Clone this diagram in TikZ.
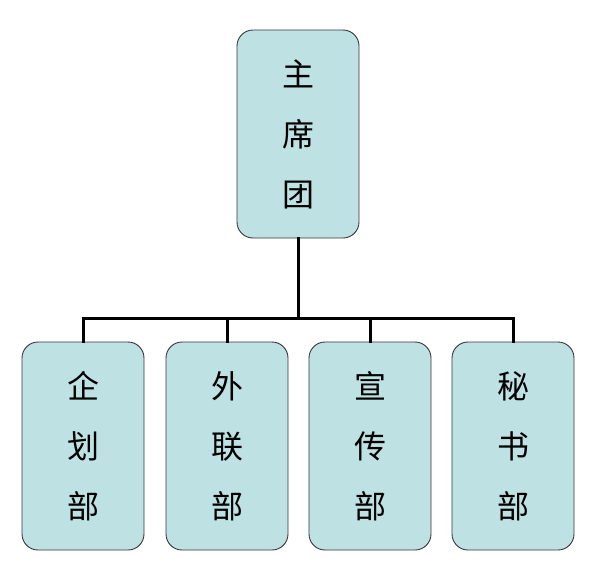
\documentclass[tikz,border=0pt]{standalone}
\usepackage{fontspec}
\newfontfamily\cjk{Noto Sans CJK SC}
\usetikzlibrary{positioning}
\definecolor{boxfill}{RGB}{190,225,228}
\definecolor{boxline}{RGB}{55,55,55}

\begin{document}
\begin{tikzpicture}[
  x=1pt, y=1pt,
  unit/.style={draw=boxline, line width=0.9pt, fill=boxfill,
               rounded corners=16pt, minimum width=122pt, minimum height=208pt,
               align=center, inner sep=0pt,
               font=\cjk\fontsize{32}{60}\selectfont},
  conn/.style={line width=3pt, line cap=rect}
]
\useasboundingbox (0,0) rectangle (597,-576);

%% ── nodes ───────────────────────────────────────────────────────────────
\node[unit] (zxt) at (298,-134) {主\\席\\团};

% departments
\node[unit] (qhb) at (83, -446) {企\\划\\部};
\node[unit] (wlb) at (227,-446) {外\\联\\部};
\node[unit] (xcb) at (370,-446) {宣\\传\\部};
\node[unit] (msb) at (513,-446) {秘\\书\\部};

%% ── edges ───────────────────────────────────────────────────────────────
\coordinate (bus) at (298,-318);
\foreach \d in {qhb,wlb,xcb,msb}
  \draw[conn] (zxt.south) -- (bus) -| (\d.north);

\end{tikzpicture}
\end{document}
